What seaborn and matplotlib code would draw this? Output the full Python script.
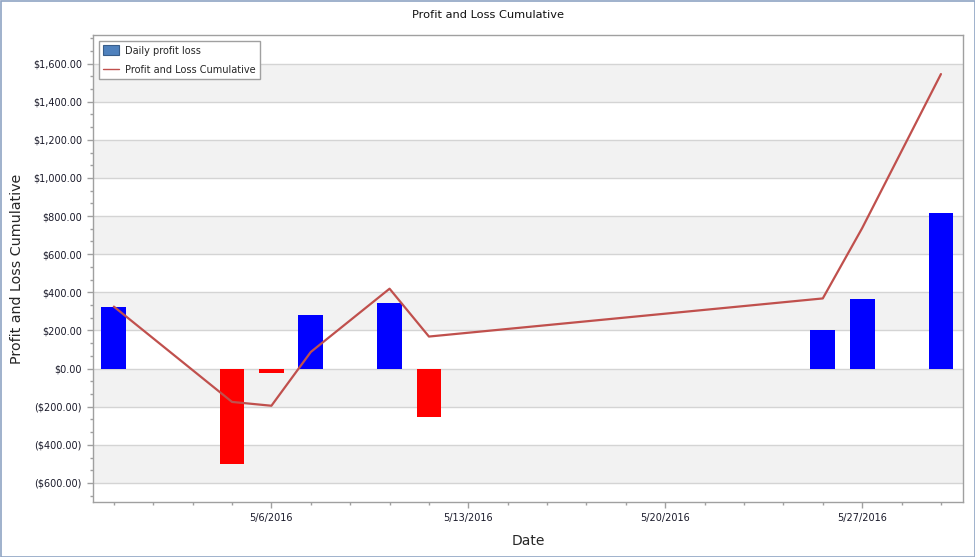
import numpy as np
import pandas as pd
import matplotlib
matplotlib.use('Agg')
import matplotlib.pyplot as plt
from matplotlib.patches import Patch, Rectangle
from matplotlib.lines import Line2D
from matplotlib.ticker import FuncFormatter, MultipleLocator, AutoMinorLocator
import seaborn as sns

# trading days and values
trade_dates = ['2016-05-02', '2016-05-05', '2016-05-06', '2016-05-09', '2016-05-11',
               '2016-05-12', '2016-05-26', '2016-05-27', '2016-05-31']
daily_pl = [325, -502, -23, 280, 344, -255, 200, 365, 818]
cumulative_pl = [325, -175, -195, 87, 419, 168, 368, 737, 1545]

tick_dates = ['2016-05-06', '2016-05-13', '2016-05-20', '2016-05-27']
tick_labels = ['5/6/2016', '5/13/2016', '5/20/2016', '5/27/2016']

start = trade_dates[0]
last_day = '2016-05-31'

# x axis counts business days only (weekends skipped)
def bday(d):
    return int(np.busday_count(start, d))

df = pd.DataFrame({
    'pos': [bday(d) for d in trade_dates],
    'daily': daily_pl,
    'cum': cumulative_pl,
})
df['sign'] = np.where(df['daily'] >= 0, 'profit', 'loss')

sns.set_style('white')
plt.rcParams['font.family'] = ['DejaVu Sans']

fig = plt.figure(figsize=(9.75, 5.57), dpi=100)
fig.patch.set_facecolor('white')
ax = fig.add_axes([93 / 975, 1 - 502 / 557, 870 / 975, 467 / 557])

ymin, ymax = -700, 1750
n_days = bday(last_day)
xlim = (-0.53, n_days + 0.56)

# alternating background bands
edges = np.arange(-600, 1601, 200)
for i in range(len(edges) - 1):
    if edges[i] in (-600, -200, 200, 600, 1000, 1400):
        ax.axhspan(edges[i], edges[i + 1], color='#F2F2F2', zorder=0, lw=0)
for e in edges:
    ax.axhline(e, color='#D4D4D4', lw=1, zorder=0.5)

sns.barplot(data=df, x='pos', y='daily', hue='sign',
            palette={'profit': '#0000FF', 'loss': '#FF0000'},
            native_scale=True, dodge=False, width=0.63, legend=False,
            saturation=1, linewidth=0, ax=ax, zorder=2)
sns.lineplot(data=df, x='pos', y='cum', color='#C0504D', lw=1.6, ax=ax, zorder=3)

ax.set_xlim(*xlim)
ax.set_ylim(ymin, ymax)

# ticks
ax.set_xticks([bday(d) for d in tick_dates])
ax.set_xticklabels(tick_labels)
ax.xaxis.set_minor_locator(MultipleLocator(1))
ax.yaxis.set_major_locator(MultipleLocator(200))
ax.yaxis.set_minor_locator(AutoMinorLocator(3))

def money(v, _):
    if v < 0:
        return '(${:,.2f})'.format(-v)
    return '${:,.2f}'.format(v)

ax.yaxis.set_major_formatter(FuncFormatter(money))
ax.tick_params(axis='both', which='major', length=4, width=1, color='#A0A0A0',
               labelsize=7, labelcolor='#1A1A2A', pad=4, direction='out')
ax.tick_params(axis='both', which='minor', length=2, width=1, color='#A0A0A0',
               direction='out')
ax.tick_params(axis='x', which='both', bottom=True)
ax.tick_params(axis='y', which='both', left=True)

for s in ax.spines.values():
    s.set_color('#A0A0A0')
    s.set_linewidth(1)

ax.set_xlabel('Date', fontsize=10, labelpad=8)
ax.set_ylabel('Profit and Loss Cumulative', fontsize=10.3, labelpad=6)
fig.text(0.5, 1 - 15 / 557, 'Profit and Loss Cumulative', ha='center', va='center',
         fontsize=8.2, color='#101010')

handles = [Patch(facecolor='#4F81BD', edgecolor='#385D8A', lw=0.8),
           Line2D([0], [0], color='#C0504D', lw=1)]
leg = ax.legend(handles, ['Daily profit loss', 'Profit and Loss Cumulative'],
                loc='upper left', bbox_to_anchor=(6 / 870, 1 - 6 / 467),
                borderaxespad=0, fontsize=7, frameon=True, fancybox=False,
                edgecolor='#A0A0A0', framealpha=1, handlelength=1.65,
                handleheight=1.2, handletextpad=0.55, borderpad=0.45,
                labelspacing=0.9)
leg.get_frame().set_linewidth(1)

# outer window border
fig.patches.append(Rectangle((0.5 / 975, 0.5 / 557), 1 - 1 / 975, 1 - 1 / 557,
                             transform=fig.transFigure, fill=False,
                             edgecolor='#8FA4C4', lw=1.2))

fig.savefig('out.png', dpi=100)
